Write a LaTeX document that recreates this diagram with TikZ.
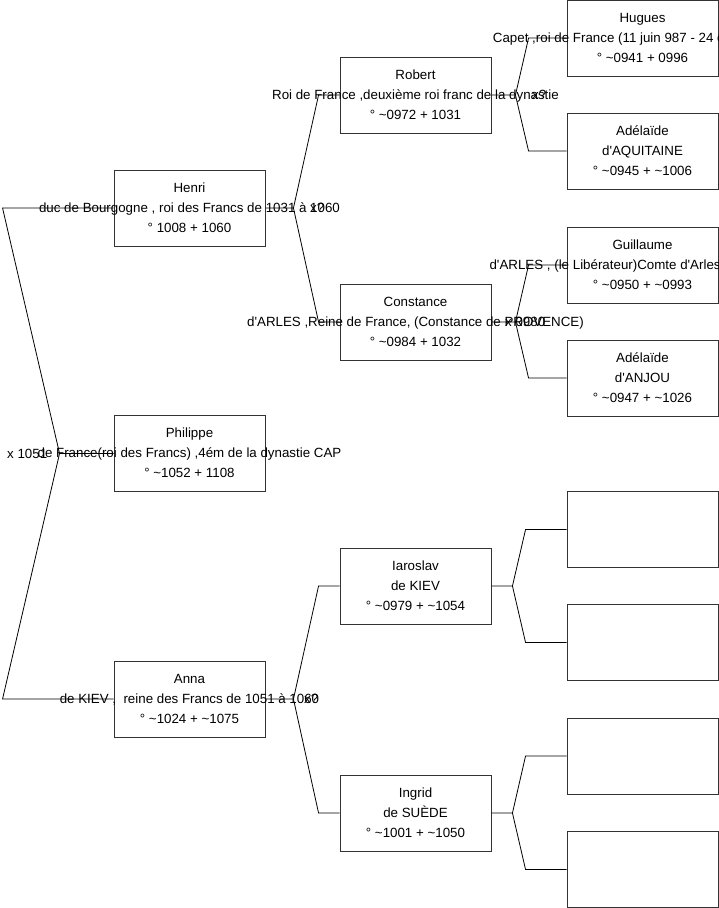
\documentclass[tikz,border=0pt]{standalone}
\usepackage{fontspec}
\setmainfont{Liberation Sans}
\usetikzlibrary{calc}
\newcommand\mytl{\textasciitilde}
\newcommand\ap{\textquotesingle}
\newcommand\pline[1]{\makebox[0pt][c]{\strut #1}\\}
\newcommand\plast[1]{\makebox[0pt][c]{\strut #1}}
\tikzset{
  person/.style={draw=black!80, line width=0.9pt, fill=white, rectangle,
    minimum width=151pt, minimum height=76pt, inner sep=0pt, align=center,
    font=\fontsize{13.33}{20}\selectfont},
  conn/.style={draw=black, line width=0.8pt},
  marr/.style={inner sep=0pt, font=\fontsize{13.33}{20}\selectfont, anchor=base west},
}
\newcommand\forkR[5]{%
  \draw[conn] (#1.east) -- ++(#4,0) coordinate (j#1) -- ($(#2.west)+(-#5,0)$) -- (#2.west);
  \draw[conn] (j#1) -- ($(#3.west)+(-#5,0)$) -- (#3.west);}
\begin{document}
\begin{tikzpicture}[x=1pt,y=-1pt]
\clip (0,0) rectangle (719,908);
\fill[white] (0,0) rectangle (719,908);
% level 3
\node[person] (hugues) at (642.5,38) {\pline{Hugues}\pline{Capet ,roi de France (11 juin 987 - 24 octobre 996)}\plast{° \mytl0941 + 0996}};
\node[person] (adelA) at (642.5,151) {\pline{Adélaïde}\pline{d\ap AQUITAINE}\plast{° \mytl0945 + \mytl1006}};
\node[person] (guill) at (642.5,265) {\pline{Guillaume}\pline{d\ap ARLES , (le Libérateur)Comte d\ap Arles et Provence}\plast{° \mytl0950 + \mytl0993}};
\node[person] (adelB) at (642.5,378) {\pline{Adélaïde}\pline{d\ap ANJOU}\plast{° \mytl0947 + \mytl1026}};
\node[person] (e1) at (642.5,529.5) {};
\node[person] (e2) at (642.5,642.5) {};
\node[person] (e3) at (642.5,756) {};
\node[person] (e4) at (642.5,869.5) {};
% level 2
\node[person] (robert) at (415.5,95) {\pline{Robert}\pline{Roi de France ,deuxième roi franc de la dynastie}\plast{° \mytl0972 + 1031}};
\node[person] (const) at (415.5,322) {\pline{Constance}\pline{d\ap ARLES ,Reine de France, (Constance de PROVENCE)}\plast{° \mytl0984 + 1032}};
\node[person] (iaro) at (415.5,586) {\pline{Iaroslav}\pline{de KIEV}\plast{° \mytl0979 + \mytl1054}};
\node[person] (ingrid) at (415.5,813) {\pline{Ingrid}\pline{de SUÈDE}\plast{° \mytl1001 + \mytl1050}};
% level 1
\node[person] (henri) at (189.5,208) {\pline{Henri}\pline{duc de Bourgogne , roi des Francs de 1031 à 1060}\plast{° 1008 + 1060}};
\node[person] (anna) at (189.5,699) {\pline{Anna}\pline{de KIEV ,\ \ reine des Francs de 1051 à 1060}\plast{° \mytl1024 + \mytl1075}};
% level 0
\node[person] (phil) at (189.5,453.5) {\pline{Philippe}\pline{de France(roi des Francs) ,4ém de la dynastie CAP}\plast{° \mytl1052 + 1108}};
% connectors
\draw[conn] (phil.west) -- ++(-54,0) coordinate (jphil) -- ($(henri.west)+(-111,0)$) -- (henri.west);
\draw[conn] (jphil) -- ($(anna.west)+(-111,0)$) -- (anna.west);
\forkR{henri}{robert}{const}{28}{21}
\forkR{anna}{iaro}{ingrid}{28}{21}
\forkR{robert}{hugues}{adelA}{24}{38}
\forkR{const}{guill}{adelB}{24}{38}
\forkR{iaro}{e1}{e2}{21}{41}
\forkR{ingrid}{e3}{e4}{21}{41}
% marriage labels
\node[marr] (mphil) at (7,458) {x 1051};
\node[marr] (mhenri) at (310,212.5) {x?};
\node[marr] (manna) at (304,703.5) {x?};
\node[marr] (mrobert) at (532,99.5) {x?};
\node[marr] (mconst) at (505,326.5) {x 0980};
\end{tikzpicture}
\end{document}
